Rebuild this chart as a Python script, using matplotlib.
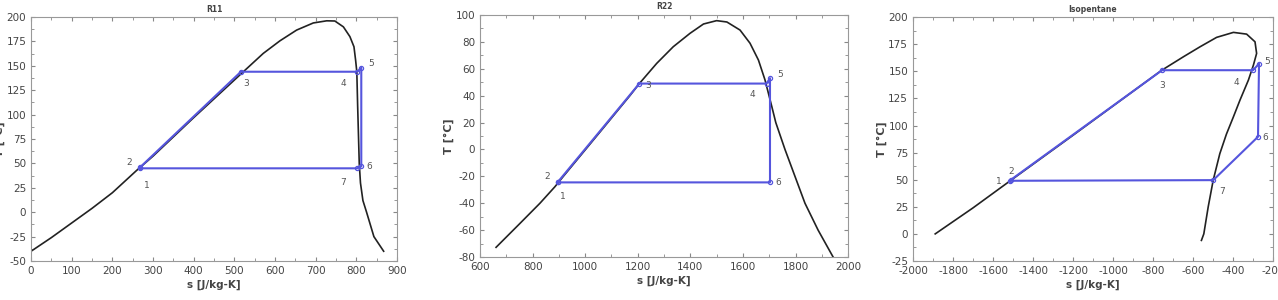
import numpy as np
import matplotlib
matplotlib.use('Agg')
import matplotlib.pyplot as plt
from matplotlib.ticker import AutoMinorLocator

plt.rcParams['axes.unicode_minus'] = False

# ---- R11 ----
r11_dome_s = [0, 50, 100, 150, 200, 260, 300, 400, 522, 571, 612, 653, 694, 727, 747,
              768, 784, 794, 798, 801, 803, 805, 807, 810, 816, 825, 843, 867]
r11_dome_T = [-40, -26, -11, 4, 20, 43, 57.5, 97, 144, 162.8, 175.7, 186.7, 194, 196.2, 196,
              190, 180, 169.6, 156, 144, 110, 80, 50, 30, 12, 0, -25, -40]
r11_cyc_s = [267, 268, 516, 802, 812, 812, 802, 267]
r11_cyc_T = [45, 46, 144, 144, 148, 47, 45, 45]

# ---- R22 ----
r22_dome_s = [661, 752, 828, 885, 917, 993, 1069, 1170, 1206, 1228, 1272, 1335, 1399, 1450,
              1500, 1539, 1589, 1627, 1659, 1684, 1710, 1725, 1760, 1798, 1836, 1886, 1943, 1955]
r22_dome_T = [-72.8, -55, -40, -27.7, -20, -2, 16, 40, 49, 54, 64, 76.4, 86.4, 93.3,
              95.8, 94.8, 88.8, 79, 66.5, 51.7, 31.8, 20, 0, -20, -40, -60, -80, -83]
r22_cyc_s = [895, 897, 1206, 1690, 1703, 1703, 895]
r22_cyc_T = [-24.5, -24, 49, 49, 53, -24.5, -24.5]

# ---- Isopentane ----
iso_dome_s = [-1889, -1700, -1514, -1200, -1000, -756, -648, -565, -482, -398, -332,
              -290, -282, -298, -323, -365, -398, -433, -466, -499, -524, -546, -558]
iso_dome_T = [0, 24, 49, 91, 118, 151, 163.4, 172.6, 181.3, 185.9, 184.3,
              177.2, 166.5, 155.7, 141.9, 123.5, 108, 92, 74, 49.6, 25, 0, -6]
iso_cyc_s = [-1514, -1510, -755, -300, -270, -275, -499, -1514]
iso_cyc_T = [49, 50, 151, 151, 157, 89.6, 49.6, 49]

blue = '#5555dd'
grey = '#444444'

fig = plt.figure(figsize=(12.78, 3.0), dpi=100)

panels = [
    ('R11', [0.0243, 0.13, 0.2864, 0.813], r11_dome_s, r11_dome_T, r11_cyc_s, r11_cyc_T,
     (0, 900), (-50, 200), np.arange(0, 901, 100), np.arange(-50, 201, 25),
     [('1', 3, -14), ('2', -10, 2), ('3', 2, -10), ('4', -12, -10), ('5', 5, 1),
      ('6', 4, -2), ('7', -12, -12)]),
    ('R22', [0.3756, 0.1433, 0.288, 0.8067], r22_dome_s, r22_dome_T, r22_cyc_s, r22_cyc_T,
     (600, 2000), (-80, 100), np.arange(600, 2001, 200), np.arange(-80, 101, 20),
     [('1', 2, -12), ('2', -10, 2), ('3', 4, -3), ('4', -12, -10), ('5', 5, 1),
      ('6', 4, -2)]),
    ('Isopentane', [0.7144, 0.13, 0.2817, 0.813], iso_dome_s, iso_dome_T, iso_cyc_s, iso_cyc_T,
     (-2000, -200), (-25, 200), np.arange(-2000, -199, 200), np.arange(-25, 201, 25),
     [('1', -10, -2), ('2', -2, 4), ('3', -2, -13), ('4', -14, -11), ('5', 4, 0),
      ('6', 3, -2), ('7', 4, -10)]),
]

for i, (title, pos, ds, dT, cs, cT, xl, yl, xt, yt, labs) in enumerate(panels):
    ax = fig.add_axes(pos)
    ax.plot(ds, dT, color='#222222', lw=1.2)
    ax.plot(cs, cT, color=blue, lw=1.5)
    # state points
    ax.plot(cs[:-1], cT[:-1], 'o', ms=3, mfc='none', mec=blue, mew=0.9)
    for k, (txt, dx, dy) in enumerate(labs):
        ax.annotate(txt, (cs[k], cT[k]), xytext=(dx, dy), textcoords='offset points',
                    fontsize=6.5, color='#555555')
    ax.set_xlim(*xl)
    ax.set_ylim(*yl)
    ax.set_xticks(xt)
    ax.set_yticks(yt)
    ax.xaxis.set_minor_locator(AutoMinorLocator(2))
    ax.yaxis.set_minor_locator(AutoMinorLocator(2))
    ax.tick_params(which='both', direction='in', top=True, right=True, colors='#888888',
                   labelcolor=grey, labelsize=7.5, length=3)
    ax.tick_params(which='minor', length=2)
    for sp in ax.spines.values():
        sp.set_color('#999999')
    ax.set_title(title, fontsize=5.5, fontweight='bold', color=grey, pad=4)
    ax.set_xlabel('s [J/kg-K]', fontsize=7.5, fontweight='bold', color=grey, labelpad=3)
    ax.set_ylabel('T [°C]', fontsize=8, fontweight='bold', color=grey, labelpad=1)

fig.savefig('out.png', dpi=100)
